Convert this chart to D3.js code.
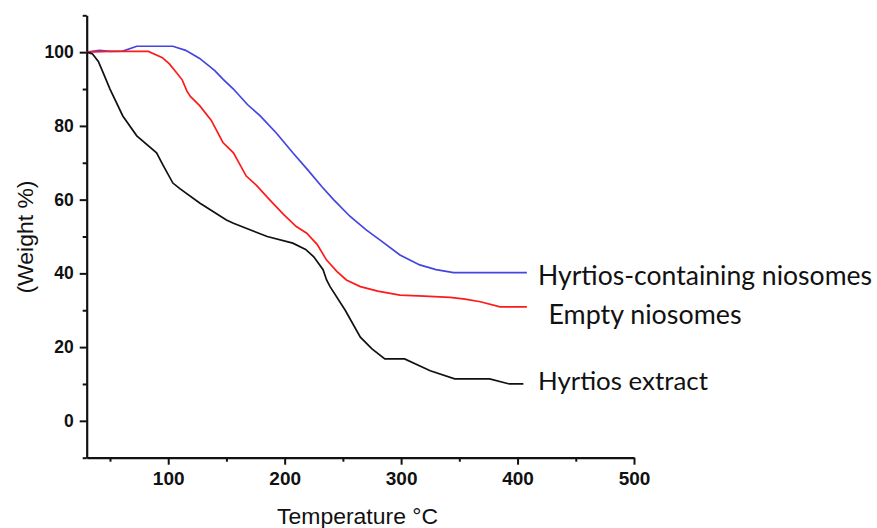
<!DOCTYPE html>
<html><head><meta charset="utf-8">
<script src="https://cdn.jsdelivr.net/npm/d3@7"></script>
<style>body{margin:0;background:#fff}svg{display:block}</style>
</head><body>
<svg id="c" width="877" height="528"></svg>
<script>
// ---- data ----
const blueT = [30,41,50,61,73,104,115,127,140,147,156,168,179,193,207,220,232,242,256,270,282,299,316,330,345,408];
const blueW = [100,100.5,100.2,100.3,101.6,101.6,100.5,98.3,95,92.7,90,85.8,82.7,78,72.7,68,63.5,60,55.5,51.8,49,45,42.3,41,40.2,40.2];
const redT = [30,50,83,95,101,107,112,116,119,127,137,147,156,167,176,187,199,210,219,228,236,245,253,265,280,299,320,342,355,368,385,408];
const redW = [100,100.2,100.2,98.5,96.8,94.5,92.5,89.5,88,85.5,81.5,75.5,72.7,66.4,63.8,60,56,52.7,50.9,47.8,43.6,40.5,38.2,36.4,35.2,34.1,33.8,33.5,33,32.3,30.9,30.9];
const blackT = [30,35,40,44,50,61,73,90,96,104,110,127,150,156,185,207,218,225,233,236,239,252,265,275,286,303,325,346,376,393,405];
const blackW = [100,99.5,97.5,94.5,90,82.7,77.3,72.7,69.1,64.5,63,59.1,54.5,53.6,50,48.2,46.5,44.5,41,38.2,36.4,30,22.7,19.5,16.8,16.8,13.6,11.4,11.4,10,10];
const seriesNames = ["Hyrtios-containing niosomes","Empty niosomes","Hyrtios extract"];
const xTicks = [100,200,300,400,500];
const xMinor = [50,150,250,350,450];
const yTicks = [0,20,40,60,80,100];
const yMinor = [-10,10,30,50,70,90,110];
const xTitle = "Temperature \u00B0C";
const yTitle = "(Weight %)";

const svg = d3.select("#c");
const x = d3.scaleLinear().domain([30,500]).range([86.7,634]);
const y = d3.scaleLinear().domain([-10,110]).range([457.7,15.3]);

const sans = "'Liberation Sans', Arial, sans-serif";

// axes
const gx = svg.append("g").attr("transform",`translate(0,${y(-10)})`);
gx.call(d3.axisBottom(x).tickValues(xTicks).tickSize(7).tickSizeOuter(0).tickPadding(7));
gx.append("g").call(d3.axisBottom(x).tickValues(xMinor).tickSize(4).tickFormat(""))
  .select(".domain").remove();
const gy = svg.append("g").attr("transform",`translate(${x(30)},0)`);
gy.call(d3.axisLeft(y).tickValues(yTicks).tickSize(7).tickSizeOuter(0).tickPadding(6));
gy.append("g").call(d3.axisLeft(y).tickValues(yMinor).tickSize(4).tickFormat(""))
  .select(".domain").remove();
svg.selectAll(".domain").attr("stroke","#111").attr("stroke-width",2.2);
svg.selectAll(".tick line").attr("stroke","#111").attr("stroke-width",2);
gx.selectAll(".tick text").attr("font-family",sans).attr("font-weight","bold").attr("font-size",19).attr("fill","#111");
gy.selectAll(".tick text").attr("font-family",sans).attr("font-weight","bold").attr("font-size",17.5).attr("fill","#111");

// lines
const line = d3.line().x(d=>x(d[0])).y(d=>y(d[1]));
const series = [
  {t:blueT,w:blueW,c:"#4444e0"},
  {t:redT,w:redW,c:"#ff1a1a"},
  {t:blackT,w:blackW,c:"#111111"}
];
series.forEach(s=>{
  svg.append("path").datum(s.t.map((t,i)=>[t,s.w[i]]))
    .attr("d",line).attr("fill","none").attr("stroke",s.c).attr("stroke-width",1.7);
});

function fit(sel, target){
  let fs = +sel.attr("font-size");
  for(let i=0;i<4;i++){
    const w = sel.node().getComputedTextLength();
    fs = fs*target/w; sel.attr("font-size",fs);
  }
}
// series labels
const lab = [
  {x:538,y:285,w:334},
  {x:548.5,y:323.5,w:193},
  {x:538,y:390,w:170}
];
lab.forEach((l,i)=>{
  const t = svg.append("text").attr("x",l.x).attr("y",l.y).text(seriesNames[i])
    .attr("font-family","Lato, 'Open Sans', sans-serif").attr("font-size",24).attr("fill","#111");
  fit(t,l.w);
});

// titles
const xt = svg.append("text").attr("x",277).attr("y",524).text(xTitle)
  .attr("font-family",sans).attr("font-size",19).attr("fill","#111");
fit(xt,161);
const yt = svg.append("text").attr("transform","translate(33,237) rotate(-90)")
  .attr("text-anchor","middle").text(yTitle)
  .attr("font-family",sans).attr("font-size",18).attr("fill","#111");
fit(yt,113);
</script>
</body></html>
